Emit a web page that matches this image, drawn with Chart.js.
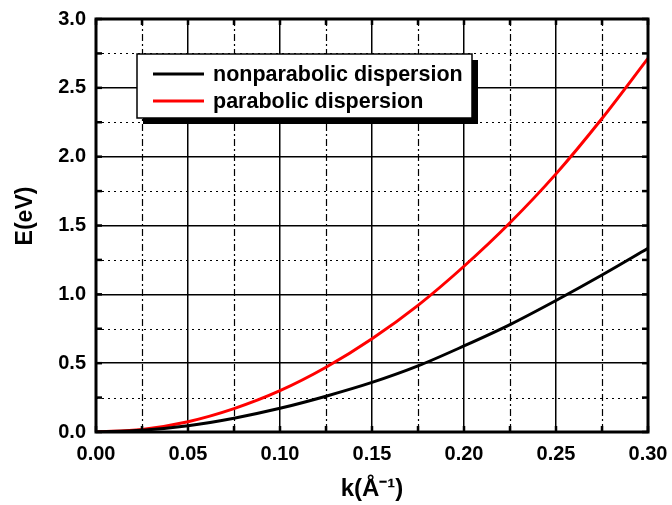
<!DOCTYPE html>
<html>
<head>
<meta charset="utf-8">
<script src="https://cdn.jsdelivr.net/npm/chart.js@4/dist/chart.umd.min.js"></script>
<style>
  html, body { margin: 0; padding: 0; background: #fff; }
  #wrap { width: 672px; height: 505px; }
</style>
</head>
<body>
<div id="wrap"><canvas id="chart" width="672" height="505"></canvas></div>
<script>
// wave vector k (1/Angstrom)
const kValues = [0, 0.025, 0.05, 0.075, 0.1, 0.125, 0.15, 0.175, 0.2, 0.225, 0.25, 0.275, 0.3];
// energies (eV)
const nonparabolicE = [0, 0.012, 0.045, 0.10, 0.172, 0.26, 0.36, 0.48, 0.625, 0.78, 0.955, 1.14, 1.334];
const parabolicE = [0, 0.019, 0.075, 0.17, 0.30, 0.47, 0.677, 0.92, 1.204, 1.52, 1.875, 2.277, 2.714];

const seriesLabels = ["nonparabolic dispersion", "parabolic dispersion"];
const seriesColors = ["#000000", "#ff0000"];

const FONT = "'Liberation Sans', Arial, sans-serif";

function toPoints(ys) {
    return kValues.map((k, i) => ({ x: k, y: ys[i] }));
}

// minor grid, frame, inward ticks, legend box and axis titles
const framePlugin = {
    id: "frame",
    beforeDatasetsDraw(chart) {
        const ctx = chart.ctx;
        const a = chart.chartArea;
        const xs = chart.scales.x, ys = chart.scales.y;
        ctx.save();
        ctx.strokeStyle = "#000";
        ctx.lineWidth = 1.2;
        // vertical minor lines, dash-dot
        ctx.setLineDash([7, 3, 2, 3]);
        for (let v = 0.025; v < 0.3; v += 0.05) {
            const x = Math.round(xs.getPixelForValue(v)) + 0.5;
            ctx.beginPath(); ctx.moveTo(x, a.top); ctx.lineTo(x, a.bottom); ctx.stroke();
        }
        // horizontal minor lines, dotted
        ctx.setLineDash([2, 4]);
        for (let v = 0.25; v < 3; v += 0.5) {
            const y = Math.round(ys.getPixelForValue(v)) + 0.5;
            ctx.beginPath(); ctx.moveTo(a.left, y); ctx.lineTo(a.right, y); ctx.stroke();
        }
        ctx.restore();
    },
    afterDatasetsDraw(chart) {
        const ctx = chart.ctx;
        const a = chart.chartArea;
        const xs = chart.scales.x, ys = chart.scales.y;
        ctx.save();

        // inward ticks on all four sides
        ctx.strokeStyle = "#000";
        ctx.lineWidth = 2.5;
        ctx.setLineDash([]);
        for (let i = 0; i <= 12; i++) {
            const x = xs.getPixelForValue(i * 0.025);
            ctx.beginPath(); ctx.moveTo(x, a.bottom); ctx.lineTo(x, a.bottom - 6); ctx.stroke();
            ctx.beginPath(); ctx.moveTo(x, a.top); ctx.lineTo(x, a.top + 6); ctx.stroke();
        }
        for (let i = 0; i <= 12; i++) {
            const y = ys.getPixelForValue(i * 0.25);
            ctx.beginPath(); ctx.moveTo(a.left, y); ctx.lineTo(a.left + 6, y); ctx.stroke();
            ctx.beginPath(); ctx.moveTo(a.right, y); ctx.lineTo(a.right - 6, y); ctx.stroke();
        }

        // frame
        ctx.lineWidth = 3;
        ctx.strokeRect(a.left, a.top, a.right - a.left, a.bottom - a.top);

        // legend with drop shadow
        const bx = 137, by = 54, bw = 335, bh = 64;
        ctx.fillStyle = "#000";
        ctx.fillRect(bx + 6, by + 6, bw, bh);
        ctx.fillStyle = "#fff";
        ctx.fillRect(bx, by, bw, bh);
        ctx.lineWidth = 1.5;
        ctx.strokeRect(bx, by, bw, bh);
        ctx.font = "bold 21.5px " + FONT;
        ctx.textBaseline = "middle";
        ctx.textAlign = "left";
        seriesLabels.forEach((label, i) => {
            const y = by + 20 + i * 27;
            ctx.strokeStyle = seriesColors[i];
            ctx.lineWidth = 3;
            ctx.beginPath(); ctx.moveTo(bx + 16, y); ctx.lineTo(bx + 67, y); ctx.stroke();
            ctx.fillStyle = "#000";
            ctx.fillText(label, bx + 76, y + 1);
        });

        // axis titles
        ctx.fillStyle = "#000";
        ctx.font = "bold 24px " + FONT;
        ctx.textAlign = "center";
        ctx.fillText("k(Å\u207B\u00B9)", (a.left + a.right) / 2, 489);
        ctx.font = "bold 23px " + FONT;
        ctx.translate(26, 216);
        ctx.rotate(-Math.PI / 2);
        ctx.fillText("E(eV)", 0, 0);
        ctx.restore();
    }
};

new Chart(document.getElementById("chart"), {
    type: "line",
    data: {
        datasets: [
            {
                label: seriesLabels[0],
                data: toPoints(nonparabolicE),
                borderColor: seriesColors[0],
                borderWidth: 3,
                pointRadius: 0,
                cubicInterpolationMode: "monotone"
            },
            {
                label: seriesLabels[1],
                data: toPoints(parabolicE),
                borderColor: seriesColors[1],
                borderWidth: 3,
                pointRadius: 0,
                cubicInterpolationMode: "monotone"
            }
        ]
    },
    options: {
        responsive: false,
        animation: false,
        layout: { padding: { top: 19, right: 24, left: 0, bottom: 0 } },
        plugins: { legend: { display: false }, tooltip: { enabled: false } },
        scales: {
            x: {
                type: "linear",
                min: 0, max: 0.3,
                afterFit(scale) {
                    scale.height = 73;
                    scale.paddingLeft = 0;
                    scale.paddingRight = 0;
                },
                grid: { color: "#000", lineWidth: 1.5, drawTicks: false },
                border: { display: false },
                ticks: {
                    stepSize: 0.05,
                    padding: 10,
                    color: "#000",
                    font: { family: FONT, size: 20, weight: "bold" },
                    callback: v => v.toFixed(2)
                }
            },
            y: {
                min: 0, max: 3,
                afterFit(scale) {
                    scale.width = 96;
                    scale.paddingTop = 0;
                    scale.paddingBottom = 0;
                },
                grid: { color: "#000", lineWidth: 1.5, drawTicks: false },
                border: { display: false },
                ticks: {
                    stepSize: 0.5,
                    padding: 10,
                    color: "#000",
                    font: { family: FONT, size: 20, weight: "bold" },
                    callback: v => v.toFixed(1)
                }
            }
        }
    },
    plugins: [framePlugin]
});
</script>
</body>
</html>
